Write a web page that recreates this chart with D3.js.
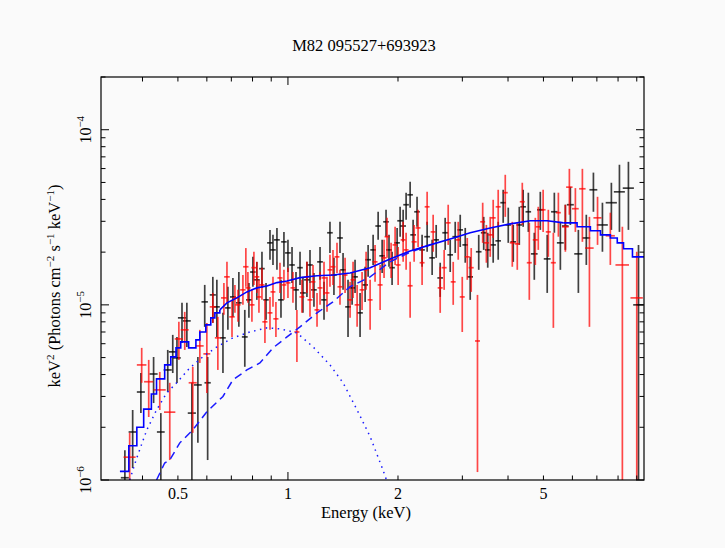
<!DOCTYPE html>
<html><head><meta charset="utf-8">
<script src="https://cdn.jsdelivr.net/npm/d3@7"></script>
<style>
body{margin:0;background:#fafafa}
svg{display:block}
text{font-family:"Liberation Serif","Times New Roman",serif;fill:#000}
</style>
</head><body>
<svg id="c" width="725" height="548"></svg>
<script>
// ---------------- data ----------------
const chartTitle = "M82 095527+693923";
const xAxisLabel = "Energy (keV)";
const yAxisLabelParts = [["keV",""],["2","sup"],[" (Photons cm",""],["−2","sup"],[" s",""],["−1","sup"],[" keV",""],["−1","sup"],[")",""]];
const xDomain = [0.308, 9.42];          // keV
const yDomain = [0.1, 20];              // units of 1e-5
const xTickLabels = [0.5, 1, 2, 5];
const yLabelValues = [0.1, 1, 10];
const yLabelExps = ["−6", "−5", "−4"];

// dataset 1 (black): energy, half bin width (keV), flux, lower, upper (x1e-5)
const blackE = [0.358,0.376,0.396,0.429,0.449,0.469,0.484,0.497,0.513,0.529,0.546,0.567,0.592,0.603,0.623,0.639,0.664,0.685,0.707,0.734,0.762,0.782,0.802,0.822,0.849,0.871,0.893,0.910,0.933,0.957,0.975,1.000,1.026,1.052,1.079,1.099,1.127,1.149,1.178,1.224,1.255,1.303,1.336,1.388,1.415,1.460,1.498,1.526,1.575,1.626,1.657,1.710,1.765,1.810,1.855,1.890,1.927,1.989,2.027,2.066,2.105,2.159,2.200,2.255,2.328,2.403,2.480,2.544,2.609,2.692,2.779,2.868,2.960,3.055,3.152,3.326,3.432,3.520,3.643,3.760,3.880,4.006,4.134,4.294,4.400,4.546,4.720,4.902,5.120,5.355,5.562,5.740,5.924,6.230,6.550,6.850,7.250,7.670,8.070,8.540,9.100];
const blackHW = [0.009,0.0095,0.010,0.011,0.011,0.012,0.012,0.012,0.013,0.013,0.014,0.014,0.012,0.012,0.012,0.012,0.012,0.012,0.013,0.013,0.014,0.014,0.014,0.015,0.015,0.015,0.016,0.016,0.017,0.017,0.017,0.018,0.018,0.019,0.019,0.02,0.02,0.02,0.021,0.022,0.022,0.023,0.024,0.025,0.025,0.026,0.027,0.027,0.028,0.029,0.03,0.03,0.031,0.032,0.033,0.034,0.034,0.035,0.036,0.037,0.037,0.038,0.039,0.04,0.041,0.043,0.044,0.045,0.046,0.048,0.049,0.051,0.052,0.054,0.056,0.059,0.061,0.062,0.064,0.066,0.069,0.071,0.073,0.076,0.078,0.08,0.1,0.1,0.11,0.11,0.12,0.12,0.13,0.16,0.16,0.17,0.25,0.27,0.28,0.3,0.3];
const blackF = [0.103,0.188,0.318,0.403,0.188,0.425,0.539,0.498,0.843,0.81,0.241,0.349,1.04,0.359,1.14,0.974,0.648,0.961,1.11,1.027,0.656,1.068,1.54,1.39,1.61,1.068,2.26,2.06,2.35,1.068,2.29,1.98,1.69,1.218,1.63,1.17,1.39,1.69,1.218,1.76,1.068,2.58,1.48,2.41,1.585,0.974,1.25,1.445,0.90,1.30,1.81,2.06,2.82,1.905,2.98,2.06,1.63,2.26,3.02,2.82,3.73,4.25,2.51,3.40,2.06,2.45,1.855,2.35,1.425,2.58,1.93,2.45,2.68,2.20,1.445,2.01,2.58,2.06,2.20,2.32,3.83,2.86,2.29,2.86,3.63,3.40,1.955,3.49,1.83,3.40,2.26,2.82,3.73,1.955,2.41,4.54,2.86,3.83,4.42,4.64,1.0];
const blackLo = [0.05,0.117,0.241,0.275,0.05,0.318,0.408,0.358,0.606,0.575,0.05,0.163,0.749,0.13,0.789,0.656,0.408,0.72,0.854,0.749,0.443,0.843,1.268,1.068,1.25,0.821,1.81,1.69,1.585,0.843,1.65,1.54,1.335,0.936,1.30,0.90,1.11,1.335,0.974,1.39,0.821,1.98,1.14,1.98,1.218,0.656,1.0,1.17,0.656,1.04,1.445,1.69,2.35,1.52,2.45,1.65,1.30,1.855,2.45,2.29,3.06,3.59,2.06,2.79,1.65,2.01,1.48,1.855,1.11,2.06,1.54,1.98,2.14,1.74,1.068,1.585,2.06,1.63,1.74,1.81,2.94,2.26,1.76,2.20,2.79,2.61,1.39,2.68,1.17,2.58,1.585,2.06,2.86,1.17,1.69,3.40,2.01,2.68,2.61,2.68,0.05];
const blackHi = [0.148,0.251,0.408,0.504,0.241,0.553,0.674,0.656,1.027,1.027,0.359,0.504,1.30,0.504,1.445,1.39,0.90,1.268,1.425,1.54,0.936,1.335,1.88,1.76,2.01,1.335,2.68,2.51,2.75,1.39,2.61,2.35,2.14,1.54,2.01,1.445,1.76,2.06,1.52,2.14,1.353,2.98,1.855,2.98,1.98,1.39,1.54,1.81,1.17,1.65,2.20,2.51,3.40,2.35,3.49,2.51,2.01,2.75,3.63,3.49,4.37,5.05,3.06,4.14,2.51,2.98,2.35,2.86,1.74,3.14,2.35,2.98,3.27,2.75,1.88,2.51,3.18,2.58,2.79,2.98,4.54,3.59,2.86,3.63,4.54,4.37,2.58,4.42,2.51,4.37,2.98,3.73,4.72,2.68,3.27,5.69,3.83,4.98,6.31,6.56,2.20];

// dataset 2 (red)
const redE = [0.369,0.398,0.416,0.446,0.475,0.503,0.522,0.549,0.574,0.600,0.623,0.643,0.668,0.681,0.703,0.716,0.730,0.753,0.767,0.777,0.797,0.807,0.822,0.833,0.849,0.865,0.893,0.910,0.927,0.951,0.975,1.000,1.032,1.058,1.092,1.127,1.149,1.171,1.201,1.224,1.255,1.279,1.303,1.328,1.362,1.388,1.433,1.479,1.507,1.546,1.595,1.636,1.678,1.731,1.787,1.832,1.867,1.915,1.964,2.002,2.066,2.105,2.159,2.214,2.270,2.328,2.403,2.496,2.609,2.675,2.744,2.832,2.923,2.998,3.094,3.172,3.300,3.410,3.490,3.576,3.643,3.760,3.931,4.109,4.240,4.376,4.574,4.750,4.840,4.990,5.156,5.322,5.493,5.740,5.887,6.114,6.390,6.680,7.030,7.620,8.220,9.000];
const redHW = [0.014,0.012,0.012,0.017,0.017,0.013,0.013,0.014,0.014,0.013,0.012,0.012,0.012,0.012,0.012,0.012,0.012,0.013,0.013,0.013,0.013,0.013,0.013,0.013,0.014,0.014,0.014,0.014,0.015,0.015,0.015,0.016,0.016,0.017,0.017,0.018,0.018,0.018,0.019,0.019,0.02,0.02,0.02,0.021,0.021,0.022,0.022,0.023,0.024,0.024,0.025,0.026,0.026,0.027,0.028,0.029,0.029,0.03,0.031,0.031,0.032,0.033,0.034,0.035,0.035,0.036,0.037,0.039,0.041,0.042,0.043,0.044,0.046,0.047,0.048,0.05,0.052,0.053,0.055,0.056,0.057,0.059,0.062,0.065,0.067,0.069,0.072,0.075,0.076,0.078,0.081,0.084,0.086,0.12,0.12,0.13,0.13,0.18,0.18,0.22,0.35,0.35];
const redF = [0.135,0.454,0.364,0.327,0.244,0.639,0.72,0.359,0.583,0.525,0.974,0.648,1.096,1.445,0.854,1.096,1.0,1.218,1.65,1.25,1.0,1.63,1.445,1.11,1.30,0.80,0.90,1.186,0.832,1.425,1.30,1.335,1.25,0.70,1.11,1.445,1.068,1.353,0.936,1.25,1.425,1.17,1.585,1.65,1.88,1.268,1.48,1.068,1.39,1.0,1.218,1.585,1.068,1.76,1.30,1.855,2.45,1.81,2.20,1.69,2.35,2.06,1.285,2.29,2.75,1.74,3.63,2.61,1.25,1.63,2.94,1.353,2.35,1.11,1.88,1.63,0.622,2.98,2.26,2.51,3.14,3.63,4.37,2.26,2.23,3.88,1.74,2.35,2.79,3.49,2.61,1.74,3.36,2.79,4.70,3.54,4.60,2.11,3.14,2.48,1.69,1.096];
const redLo = [0.05,0.359,0.229,0.251,0.13,0.485,0.553,0.186,0.466,0.314,0.789,0.425,0.877,1.027,0.656,0.90,0.80,1.0,1.268,1.027,0.80,1.30,1.17,0.90,1.068,0.606,0.72,0.974,0.656,1.17,1.068,1.096,1.027,0.472,0.90,1.17,0.854,1.096,0.749,1.0,1.14,0.912,1.268,1.30,1.52,1.0,1.17,0.843,1.096,0.749,0.936,1.218,0.72,1.353,0.936,1.425,1.855,1.425,1.69,1.30,1.76,1.585,0.843,1.76,2.14,1.30,2.86,2.01,0.90,1.218,2.20,1.0,1.81,0.70,1.39,1.186,0.111,2.26,1.74,1.88,2.41,2.79,3.18,1.65,1.585,2.86,1.068,1.69,2.06,2.61,1.88,0.739,2.45,2.01,3.27,2.61,2.29,0.749,2.20,1.69,0.05,0.05];
const redHi = [0.186,0.568,0.485,0.414,0.359,0.80,0.912,0.443,0.72,0.789,1.17,0.854,1.335,1.76,1.068,1.30,1.218,1.48,2.11,1.54,1.218,2.01,1.76,1.39,1.63,1.068,1.11,1.445,1.04,1.74,1.585,1.63,1.54,0.936,1.39,1.76,1.335,1.69,1.17,1.54,1.76,1.445,1.93,2.06,2.26,1.585,1.855,1.353,1.76,1.30,1.54,2.01,1.39,2.20,1.69,2.35,3.14,2.26,2.79,2.14,2.98,2.58,1.76,2.86,3.49,2.20,4.42,3.27,1.65,2.06,3.73,1.76,2.98,1.445,2.41,2.11,1.14,3.83,2.86,3.18,3.98,4.54,5.53,2.98,2.94,4.98,2.94,3.14,3.63,4.54,3.49,2.58,4.37,3.73,5.98,4.64,5.98,3.18,4.14,3.36,2.79,2.01];

// total model (histogram levels at bin starts)
const modelE = [0.347,0.367,0.386,0.403,0.423,0.437,0.460,0.478,0.494,0.509,0.535,0.560,0.574,0.596,0.615,0.631,0.651,0.681,0.725,0.772,0.822,0.876,0.933,0.994,1.079,1.201,1.328,1.479,1.678,1.903,2.159,2.449,2.779,3.152,3.576,4.057,4.603,5.120,5.680,6.180,6.720,7.160,7.620,7.960,8.280,8.760,9.420];
const modelF = [0.112,0.157,0.20,0.254,0.31,0.378,0.454,0.505,0.568,0.615,0.568,0.631,0.70,0.769,0.843,0.90,0.936,1.027,1.096,1.186,1.25,1.28,1.34,1.37,1.43,1.465,1.48,1.52,1.63,1.83,2.03,2.20,2.38,2.58,2.75,2.90,3.02,3.02,2.94,2.79,2.65,2.51,2.41,2.26,2.09,1.88,1.86];
// power-law-like component (dashed)
const dashE = [0.437,0.460,0.475,0.506,0.549,0.600,0.639,0.664,0.707,0.772,0.838,0.910,0.994,1.079,1.201,1.328,1.479,1.678,1.903,2.159,2.449];
const dashF = [0.10,0.125,0.13,0.163,0.193,0.245,0.278,0.30,0.373,0.425,0.466,0.568,0.656,0.749,0.90,1.04,1.27,1.445,1.76,2.0,2.2];
// thermal component (dotted)
const dotE = [0.369,0.386,0.411,0.437,0.466,0.496,0.539,0.585,0.639,0.707,0.787,0.876,0.951,1.058,1.172,1.303,1.415,1.546,1.678,1.820,1.860];
const dotF = [0.10,0.134,0.193,0.251,0.314,0.359,0.437,0.505,0.575,0.648,0.70,0.739,0.73,0.692,0.575,0.454,0.359,0.251,0.177,0.114,0.10];

// ---------------- drawing ----------------
const svg = d3.select("#c");
const L = 101, R = 644, T = 77, B = 480;
const x = d3.scaleLog().domain(xDomain).range([L, R]);
const y = d3.scaleLog().domain(yDomain).range([B, T]);

svg.append("defs").append("clipPath").attr("id","clip")
  .append("rect").attr("x",L).attr("y",T).attr("width",R-L).attr("height",B-T);
const plot = svg.append("g").attr("clip-path","url(#clip)");

function drawSet(E, HW, F, LO, HI, color, op){
  const g = plot.append("g").attr("stroke", color).attr("stroke-width", 1.7).attr("stroke-opacity", op);
  E.forEach((e,i)=>{
    g.append("line").attr("x1", x(e)).attr("x2", x(e)).attr("y1", y(LO[i])).attr("y2", y(HI[i]));
    g.append("line").attr("x1", x(e-HW[i])).attr("x2", x(e+HW[i])).attr("y1", y(F[i])).attr("y2", y(F[i]));
  });
}
drawSet(blackE, blackHW, blackF, blackLo, blackHi, "#000", 0.75);
drawSet(redE, redHW, redF, redLo, redHi, "#ff0000", 0.72);

const pts = (E,F)=>E.map((e,i)=>[e,F[i]]);
const lineStep = d3.line().x(d=>x(d[0])).y(d=>y(d[1])).curve(d3.curveStepAfter);
const lineLin = d3.line().x(d=>x(d[0])).y(d=>y(d[1]));

// components
plot.append("path").attr("d", lineLin(pts(dotE,dotF))).attr("fill","none")
  .attr("stroke","#1a1aff").attr("stroke-width",1.5).attr("stroke-dasharray","1.5,4.5");
plot.append("path").attr("d", lineLin(pts(dashE,dashF))).attr("fill","none")
  .attr("stroke","#1a1aff").attr("stroke-width",1.5).attr("stroke-dasharray","8,5");

// total model: stepped at low and high energies, smooth in between
const mp = pts(modelE, modelF);
const lowPart = mp.filter(d=>d[0] <= 0.652);
const midPart = mp.filter(d=>d[0] >= 0.650 && d[0] <= 5.69);
const highPart = mp.filter(d=>d[0] >= 5.67);
[ [lowPart, lineStep], [midPart, lineLin], [highPart, lineStep] ].forEach(([p, f])=>{
  plot.append("path").attr("d", f(p)).attr("fill","none")
    .attr("stroke","#0000ff").attr("stroke-width",1.6);
});

// frame
svg.append("rect").attr("x",L).attr("y",T).attr("width",R-L).attr("height",B-T)
  .attr("fill","none").attr("stroke","#000").attr("stroke-width",1.2);

// ticks
const isMajor = v => Math.abs(Math.log10(v) - Math.round(Math.log10(v))) < 1e-6;
const tg = svg.append("g").attr("stroke","#000").attr("stroke-width",1);
x.ticks().forEach(v=>{
  const len = isMajor(v) ? 8 : 4.5, px = x(v);
  tg.append("line").attr("x1",px).attr("x2",px).attr("y1",B).attr("y2",B-len);
  tg.append("line").attr("x1",px).attr("x2",px).attr("y1",T).attr("y2",T+len);
});
y.ticks().forEach(v=>{
  const len = isMajor(v) ? 8 : 4.5, py = y(v);
  tg.append("line").attr("x1",L).attr("x2",L+len).attr("y1",py).attr("y2",py);
  tg.append("line").attr("x1",R).attr("x2",R-len).attr("y1",py).attr("y2",py);
});

// tick labels
xTickLabels.forEach(v=>{
  svg.append("text").attr("x", x(v)).attr("y", 499).attr("text-anchor","middle")
    .style("font-size","16px").text(String(v));
});
yLabelValues.forEach((v,i)=>{
  const t = svg.append("text").attr("transform",`translate(91,${y(v)}) rotate(-90)`)
    .attr("text-anchor","middle").style("font-size","16px");
  t.append("tspan").text("10");
  t.append("tspan").attr("dy",-7).style("font-size","11px").text(yLabelExps[i]);
});

// titles
svg.append("text").attr("x",364).attr("y",51).attr("text-anchor","middle")
  .style("font-size","16.5px").text(chartTitle);
svg.append("text").attr("x",366).attr("y",518).attr("text-anchor","middle")
  .style("font-size","16.5px").text(xAxisLabel);
const yl = svg.append("text").attr("transform","translate(60,286) rotate(-90)")
  .attr("text-anchor","middle").style("font-size","16.5px");
let prevSup = false;
yAxisLabelParts.forEach(([txt, kind])=>{
  const sp = yl.append("tspan").text(txt);
  if (kind === "sup") { sp.attr("dy", -6).style("font-size","11px"); prevSup = true; }
  else { if (prevSup) sp.attr("dy", 6); prevSup = false; }
});
</script>
</body></html>
